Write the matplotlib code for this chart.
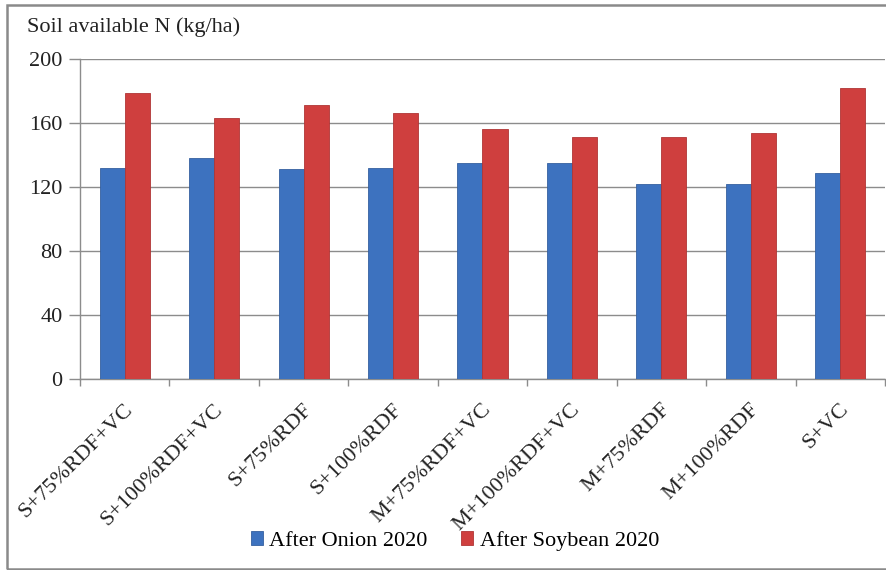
import matplotlib
matplotlib.use("Agg")
import matplotlib.pyplot as plt
import matplotlib.transforms as mtransforms
from matplotlib.patches import Rectangle
import numpy as np

# Treatments and soil available N values (kg/ha)
treatments = ["S+75%RDF+VC", "S+100%RDF+VC", "S+75%RDF", "S+100%RDF",
              "M+75%RDF+VC", "M+100%RDF+VC", "M+75%RDF", "M+100%RDF", "S+VC"]
after_onion = [132, 138, 131, 132, 135, 135, 122, 122, 129]
after_soybean = [179, 163, 171, 166, 156, 151, 151, 154, 182]
series_names = ["After Onion 2020", "After Soybean 2020"]
y_ticks = [0, 40, 80, 120, 160, 200]

plt.rcParams["font.family"] = ["Liberation Serif", "DejaVu Serif"]
FS = 16

W, H = 886, 570
fig = plt.figure(figsize=(W / 100, H / 100), dpi=100)
ax = fig.add_axes([80 / W, 1 - 379 / H, (885 - 80) / W, (379 - 59) / H])

blue = "#3d72bf"
red = "#cf3f3e"
x = np.arange(len(treatments))
bw = 0.28
ax.bar(x - bw / 2, after_onion, bw, color=blue, edgecolor="#35609f",
       linewidth=0.6, label=series_names[0], zorder=3)
ax.bar(x + bw / 2, after_soybean, bw, color=red, edgecolor="#b03535",
       linewidth=0.6, label=series_names[1], zorder=3)

ax.set_xlim(-0.5, len(treatments) - 0.5)
ax.set_ylim(0, 200)
ax.set_yticks(y_ticks)
ax.set_yticklabels([str(v) for v in y_ticks], fontsize=FS, color="#222222")
ax.yaxis.grid(True, color="#8c8c8c", linewidth=1.0, zorder=0)
ax.tick_params(axis="y", length=8, width=1, color="#8c8c8c", pad=4.5)

# category labels at centres, tick marks at category boundaries
ax.set_xticks(x)
ax.set_xticks(np.arange(len(treatments) + 1) - 0.5, minor=True)
ax.tick_params(axis="x", which="major", length=0, pad=15)
ax.tick_params(axis="x", which="minor", length=5, width=1, color="#8c8c8c")
labels = ax.set_xticklabels(treatments, fontsize=FS, rotation=45,
                            ha="right", va="top", rotation_mode="anchor",
                            color="#222222")
shift = mtransforms.ScaledTranslation(-1 / 100, 0, fig.dpi_scale_trans)
for lab in labels:
    lab.set_transform(lab.get_transform() + shift)

for side in ["top", "right"]:
    ax.spines[side].set_visible(False)
for side in ["left", "bottom"]:
    ax.spines[side].set_color("#8c8c8c")
    ax.spines[side].set_linewidth(1.0)

fig.text(27 / W, 1 - 27 / H, "Soil available N (kg/ha)", fontsize=FS,
         ha="left", va="center", color="#222222")

fig.legend(loc="center", bbox_to_anchor=(455 / W, 1 - 541 / H), ncol=2,
           frameon=False, fontsize=FS, handlelength=0.55, handleheight=0.55,
           handletextpad=0.3, columnspacing=1.5)

# chart frame
fig.patches.append(Rectangle((7 / W, 1 - 569 / H), 1.2, (569 - 5) / H,
                             transform=fig.transFigure, fill=False,
                             edgecolor="#8a8a8a", linewidth=1.8))

fig.savefig("out.png", dpi=100)
